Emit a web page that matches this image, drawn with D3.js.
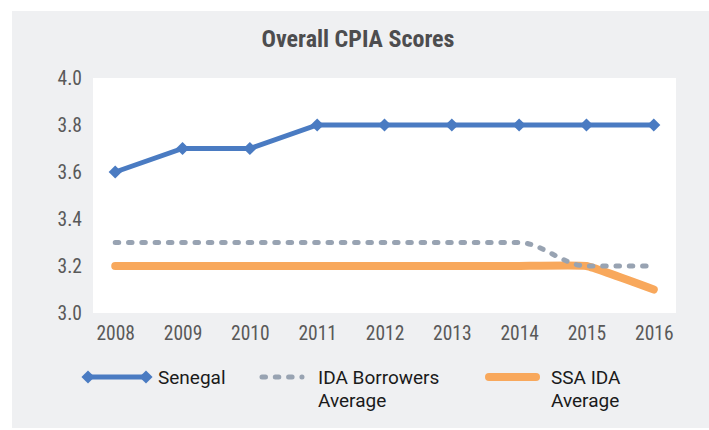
<!DOCTYPE html>
<html>
<head>
<meta charset="utf-8">
<script src="https://cdn.jsdelivr.net/npm/d3@7"></script>
<style>
  html, body { margin: 0; padding: 0; background: #ffffff; }
  svg { display: block; }
  .cond { font-family: Roboto, sans-serif; font-stretch: 75%; }
</style>
</head>
<body>
<div id="chart"></div>
<script>
// data ------------------------------------------------------------------------
const years = ['2008', '2009', '2010', '2011', '2012', '2013', '2014', '2015', '2016'];
const senegal = [3.6, 3.7, 3.7, 3.8, 3.8, 3.8, 3.8, 3.8, 3.8];
const idaBorrowers = [3.3, 3.3, 3.3, 3.3, 3.3, 3.3, 3.3, 3.2, 3.2];
const ssaIda = [3.2, 3.2, 3.2, 3.2, 3.2, 3.2, 3.2, 3.2, 3.1];
const yTicks = [3.0, 3.2, 3.4, 3.6, 3.8, 4.0];
const legendNames = [['Senegal'], ['IDA Borrowers', 'Average'], ['SSA IDA', 'Average']];

const width = 709;
const height = 430;
const blue = '#4a7bc2';
const gray = '#98a3b2';
const orange = '#f8a85c';

const svg = d3.select('#chart').append('svg')
  .attr('width', width)
  .attr('height', height);

// 背景 ----------------------------------------------------------------------
svg.append('rect')
  .attr('x', 12).attr('y', 11)
  .attr('width', width - 12).attr('height', 417)
  .attr('fill', '#eff0f2');

const plot = {left: 93, top: 78, right: 676, bottom: 313};
svg.append('rect')
  .attr('x', plot.left).attr('y', plot.top)
  .attr('width', plot.right - plot.left).attr('height', plot.bottom - plot.top)
  .attr('fill', '#ffffff');

// title
svg.append('text')
  .attr('class', 'cond')
  .attr('x', 358).attr('y', 47)
  .attr('text-anchor', 'middle')
  .attr('font-weight', 'bold')
  .attr('font-size', 24)
  .attr('fill', '#4d4d4f')
  .text('Overall CPIA Scores');

// scales ----------------------------------------------------------------------
const x = d3.scalePoint()
  .domain(years)
  .range([plot.left, plot.right])
  .padding(0.33);
const y = d3.scaleLinear()
  .domain([3.0, 4.0])
  .range([plot.bottom, plot.top]);

// axes
const yAxis = svg.append('g')
  .attr('transform', 'translate(' + plot.left + ',0)')
  .call(d3.axisLeft(y).tickValues(yTicks).tickFormat(d3.format('.1f')).tickSize(0).tickPadding(11));
const xAxis = svg.append('g')
  .attr('transform', 'translate(0,' + plot.bottom + ')')
  .call(d3.axisBottom(x).tickSize(0).tickPadding(13));
[xAxis, yAxis].forEach(g => {
  g.select('.domain').remove();
  g.attr('font-family', null).attr('font-size', null);
  g.selectAll('text')
    .attr('class', 'cond')
    .attr('font-size', 19.5)
    .attr('fill', '#595959');
});

// lines -----------------------------------------------------------------------
const lineOf = curve => d3.line()
  .x((d, i) => x(years[i]))
  .y(d => y(d))
  .curve(curve);

svg.append('path')
  .datum(ssaIda)
  .attr('d', lineOf(d3.curveCardinal.tension(0.7)))
  .attr('fill', 'none')
  .attr('stroke', orange)
  .attr('stroke-width', 8)
  .attr('stroke-linecap', 'round');

svg.append('path')
  .datum(idaBorrowers)
  .attr('d', lineOf(d3.curveMonotoneX))
  .attr('fill', 'none')
  .attr('stroke', gray)
  .attr('stroke-width', 5)
  .attr('stroke-linecap', 'round')
  .attr('stroke-dasharray', '3.5,9.8');

svg.append('path')
  .datum(senegal)
  .attr('d', lineOf(d3.curveLinear))
  .attr('fill', 'none')
  .attr('stroke', blue)
  .attr('stroke-width', 5);

const diamond = d3.symbol().type(d3.symbolDiamond2).size(110);
svg.append('g')
  .selectAll('path')
  .data(senegal)
  .enter()
  .append('path')
  .attr('d', diamond)
  .attr('transform', (d, i) => 'translate(' + x(years[i]) + ',' + y(d) + ')')
  .attr('fill', blue);

// legend ----------------------------------------------------------------------
const legendY = 377;
const legendItems = [
  {x1: 88, x2: 146, tx: 158},
  {x1: 262, x2: 302, tx: 318},
  {x1: 489, x2: 536, tx: 551}
];
const legend = svg.append('g');
legendItems.forEach((item, i) => {
  const g = legend.append('g');
  if (i === 0) {
    g.append('line')
      .attr('x1', item.x1).attr('x2', item.x2)
      .attr('y1', legendY).attr('y2', legendY)
      .attr('stroke', blue).attr('stroke-width', 5);
    [item.x1, item.x2].forEach(px => {
      g.append('path')
        .attr('d', diamond)
        .attr('transform', 'translate(' + px + ',' + legendY + ')')
        .attr('fill', blue);
    });
  } else if (i === 1) {
    g.append('line')
      .attr('x1', item.x1).attr('x2', item.x2)
      .attr('y1', legendY).attr('y2', legendY)
      .attr('stroke', gray).attr('stroke-width', 5)
      .attr('stroke-linecap', 'round')
      .attr('stroke-dasharray', '3.5,9.8');
  } else {
    g.append('line')
      .attr('x1', item.x1).attr('x2', item.x2)
      .attr('y1', legendY).attr('y2', legendY)
      .attr('stroke', orange).attr('stroke-width', 8)
      .attr('stroke-linecap', 'round');
  }
  const t = g.append('text')
    .attr('x', item.tx).attr('y', 384)
    .attr('font-family', 'Roboto, sans-serif')
    .attr('font-size', 19)
    .attr('fill', '#1a1a1a');
  legendNames[i].forEach((s, j) => {
    t.append('tspan')
      .attr('x', item.tx)
      .attr('dy', j === 0 ? 0 : 23)
      .text(s);
  });
});
</script>
</body>
</html>
